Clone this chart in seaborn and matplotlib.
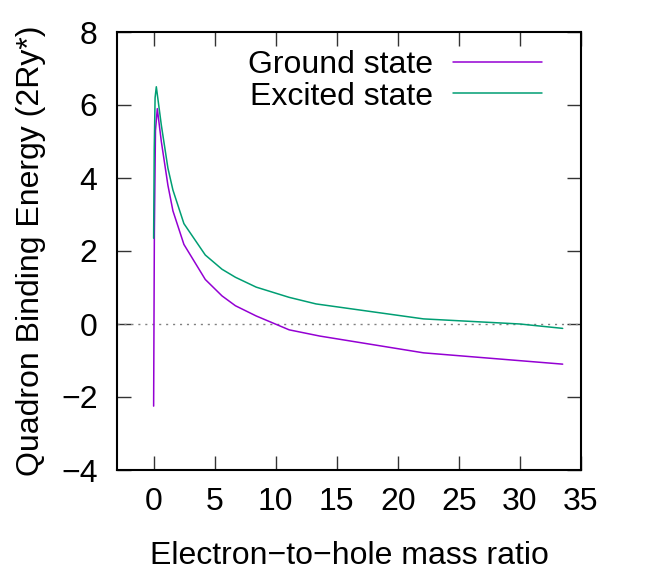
import pandas as pd
import numpy as np

import matplotlib
matplotlib.use("Agg")
import matplotlib.pyplot as plt
import seaborn as sns

# values
ground_x = [0, 0.06, 0.15, 0.3, 0.63, 1.17, 1.58, 2.48, 4.23, 5.6, 6.7, 8.4, 11.1, 13.6, 22.1, 33.5]
ground_y = [-2.25, 2.5, 5.3, 5.9, 5.0, 3.8, 3.1, 2.18, 1.22, 0.77, 0.5, 0.22, -0.16, -0.33, -0.79, -1.1]

excited_x = [0, 0.05, 0.12, 0.22, 0.63, 1.17, 1.58, 2.48, 4.23, 5.6, 6.7, 8.4, 11.1, 13.3, 22.1, 30, 33.5]
excited_y = [2.35, 4.8, 6.2, 6.5, 5.45, 4.27, 3.67, 2.75, 1.89, 1.5, 1.28, 1.01, 0.73, 0.55, 0.14, 0.0, -0.12]

labels = ["Ground state", "Excited state"]
colors = ["#9400d3", "#009e73"]

df = pd.concat([
    pd.DataFrame({"ratio": ground_x, "energy": ground_y, "state": labels[0]}),
    pd.DataFrame({"ratio": excited_x, "energy": excited_y, "state": labels[1]}),
], ignore_index=True)

sns.set_style("ticks")
plt.rcParams['font.family'] = ['Liberation Sans', 'DejaVu Sans']
plt.rcParams['axes.unicode_minus'] = True
plt.rcParams['text.color'] = 'black'
plt.rcParams['axes.labelcolor'] = 'black'

fs = 23

fig = plt.figure(figsize=(6.54, 5.72), dpi=100)
ax = fig.add_axes([117/654, 1 - 470/572, (581 - 117)/654, (470 - 32)/572])

# dotted zero line
ax.axhline(0, color="#808080", lw=1.0, ls=(0, (1.5, 3.5)), zorder=1)

sns.lineplot(data=df, x="ratio", y="energy", hue="state", palette=colors,
             estimator=None, sort=False, lw=1.1, ax=ax, zorder=3)

ax.set_xlim(-3, 35)
ax.set_ylim(-4, 8)
ax.set_xticks(np.arange(0, 36, 5))
ax.set_yticks(np.arange(-4, 9, 2))

for s in ax.spines.values():
    s.set_visible(True)
    s.set_linewidth(1.5)
    s.set_color("black")

ax.tick_params(direction="in", length=10, width=1.0, color="#333333",
               labelcolor="black", top=True, right=True, labelsize=fs)
ax.tick_params(axis="y", pad=14)
ax.tick_params(axis="x", pad=12)

ax.set_xlabel("Electron\u2212to\u2212hole mass ratio", fontsize=fs, labelpad=17.5)
ax.set_ylabel("Quadron Binding Energy (2Ry*)", fontsize=fs, labelpad=11)

handles, _ = ax.get_legend_handles_labels()
ax.legend(handles=handles, labels=labels, loc="upper right",
          bbox_to_anchor=(0.916, 0.959), frameon=False, markerfirst=False,
          fontsize=fs, handlelength=2.8, handletextpad=0.6,
          labelspacing=0.05, borderpad=0, borderaxespad=0)

fig.savefig("out.png", dpi=100)
